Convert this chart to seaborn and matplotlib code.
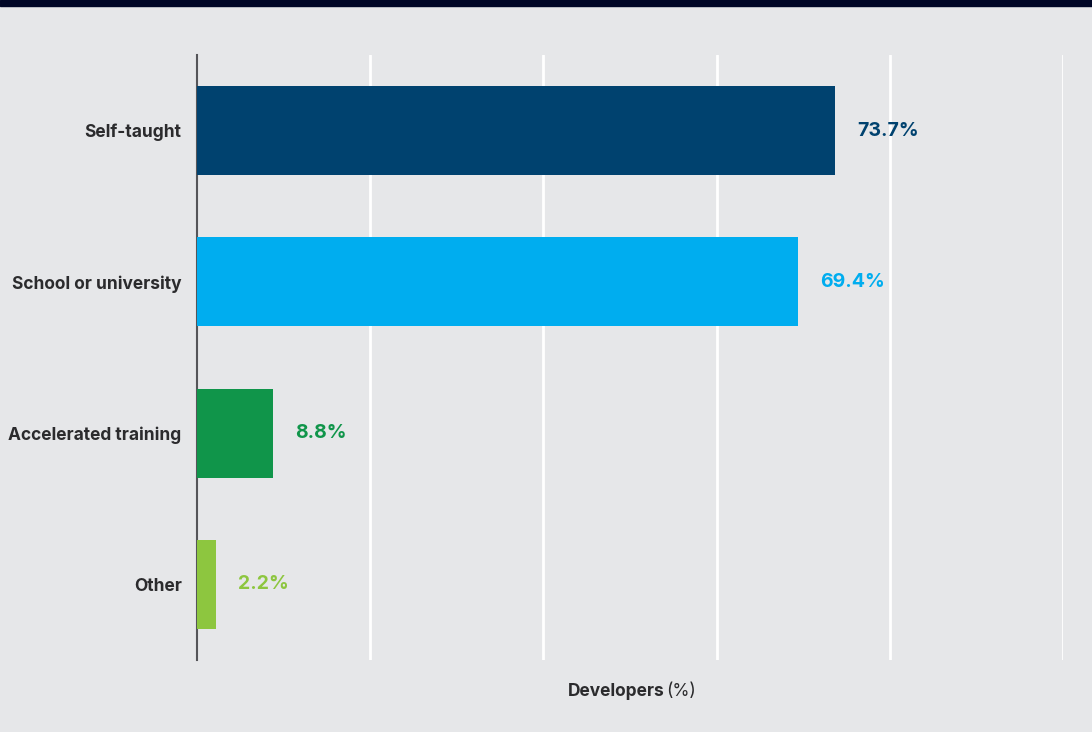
# Data Handling & Visualization
import pandas as pd
import matplotlib
matplotlib.use("Agg")
import matplotlib.pyplot as plt
import matplotlib.patches as mpatches
import seaborn as sns

# ==============================
# Data
# ==============================
categories = ["Self-taught", "School or university", "Accelerated training", "Other"]
values = [73.7, 69.4, 8.8, 2.2]
bar_colors = ["#00426F", "#00ADEF", "#10954A", "#8DC63F"]

df = pd.DataFrame({"source": categories, "pct": values})

# ==============================
# Styling
# ==============================
BG = "#E6E7E9"
TXT = "#2B2B2D"
sns.set_style("white")
plt.rcParams["font.family"] = ["Inter", "DejaVu Sans"]

fig = plt.figure(figsize=(10.92, 7.32), dpi=100, facecolor=BG)
ax = fig.add_axes([197 / 1092, 1 - 660 / 732, (1063 - 197) / 1092, (660 - 55) / 732])
ax.set_facecolor(BG)

# dark strip at the top
fig.patches.append(mpatches.Rectangle((0, 1 - 6 / 732), 1, 6 / 732,
                                      transform=fig.transFigure, color="#000626", zorder=5))

sns.barplot(data=df, x="pct", y="source", hue="source", palette=bar_colors,
            orient="h", width=0.59, saturation=1, linewidth=0,
            legend=False, ax=ax, zorder=3)

ax.set_xlim(0, 100)
ax.set_ylim(3.5, -0.5)
ax.set_xticks([20, 40, 60, 80, 100])
ax.xaxis.grid(True, color="white", linewidth=2, zorder=0)
ax.set_axisbelow(True)
ax.tick_params(axis="x", length=0, labelbottom=False)
ax.tick_params(axis="y", length=0, pad=11)
for lbl in ax.get_yticklabels():
    lbl.set_fontsize(12.5)
    lbl.set_fontweight("bold")
    lbl.set_color(TXT)
ax.set_xlabel("")
ax.set_ylabel("")

for s in ["top", "right", "bottom"]:
    ax.spines[s].set_visible(False)
ax.spines["left"].set_color("#555559")
ax.spines["left"].set_linewidth(1.5)

# value labels
for i, (v, c) in enumerate(zip(values, bar_colors)):
    ax.annotate(f"{v}%", xy=(v, i), xytext=(16, 0), textcoords="offset points",
                ha="left", va="center", fontsize=14, fontweight="bold", color=c)

# axis title: "Developers" bold + "(%)" regular
t1 = fig.text(665 / 1092, 1 - 692 / 732, "Developers", ha="right", va="center",
              fontsize=12.5, fontweight="bold", color=TXT)
fig.canvas.draw()
ax.annotate("(%)", xy=(1, 0.5), xycoords=t1, xytext=(1, 0), textcoords="offset points",
            ha="left", va="center", fontsize=12.5, color=TXT)

fig.savefig("out.png", dpi=100, facecolor=BG)
